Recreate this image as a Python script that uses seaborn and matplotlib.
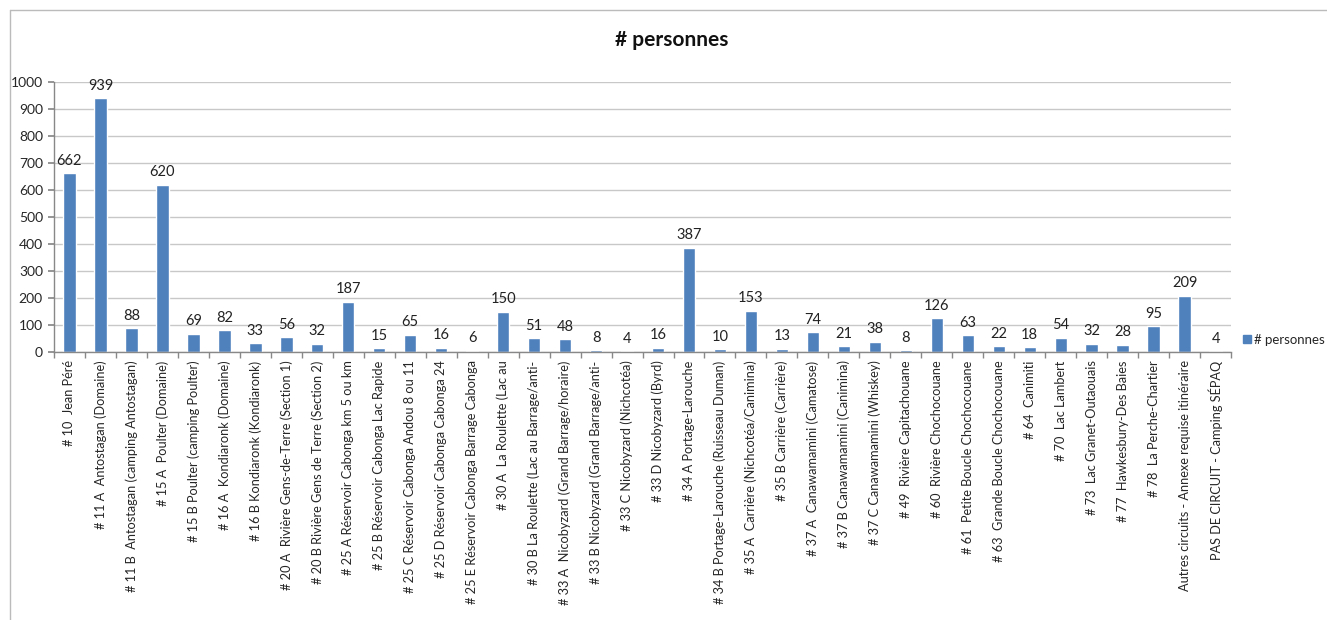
import matplotlib
matplotlib.use("Agg")
import matplotlib.pyplot as plt
import matplotlib.patches as mpatches
import seaborn as sns
import pandas as pd

# chart data
circuits = [
    "# 10  Jean Péré",
    "# 11 A  Antostagan (Domaine)",
    "# 11 B  Antostagan (camping Antostagan)",
    "# 15 A  Poulter (Domaine)",
    "# 15 B Poulter (camping Poulter)",
    "# 16 A  Kondiaronk (Domaine)",
    "# 16 B Kondiaronk (Kondiaronk)",
    "# 20 A  Rivière Gens-de-Terre (Section 1)",
    "# 20 B Rivière Gens de Terre (Section 2)",
    "# 25 A Réservoir Cabonga km 5 ou km",
    "# 25 B Réservoir Cabonga Lac Rapide",
    "# 25 C Réservoir Cabonga Andou 8 ou 11",
    "# 25 D Réservoir Cabonga Cabonga 24",
    "# 25 E Réservoir Cabonga Barrage Cabonga",
    "# 30 A  La Roulette (Lac au",
    "# 30 B La Roulette (Lac au Barrage/anti-",
    "# 33 A  Nicobyzard (Grand Barrage/horaire)",
    "# 33 B Nicobyzard (Grand Barrage/anti-",
    "# 33 C Nicobyzard (Nichcotéa)",
    "# 33 D Nicobyzard (Byrd)",
    "# 34 A Portage-Larouche",
    "# 34 B Portage-Larouche (Ruisseau Duman)",
    "# 35 A  Carrière (Nichcotéa/Canimina)",
    "# 35 B Carrière (Carrière)",
    "# 37 A  Canawamamini (Camatose)",
    "# 37 B Canawamamini (Canimina)",
    "# 37 C Canawamamini (Whiskey)",
    "# 49  Rivière Capitachouane",
    "# 60  Rivière Chochocouane",
    "# 61  Petite Boucle Chochocouane",
    "# 63  Grande Boucle Chochocouane",
    "# 64  Canimiti",
    "# 70  Lac Lambert",
    "# 73  Lac Granet-Outaouais",
    "# 77  Hawkesbury-Des Baies",
    "# 78  La Perche-Chartier",
    "Autres circuits - Annexe requise itinéraire",
    "PAS DE CIRCUIT - Camping SÉPAQ",
]
personnes = [662, 939, 88, 620, 69, 82, 33, 56, 32, 187, 15, 65, 16, 6, 150,
             51, 48, 8, 4, 16, 387, 10, 153, 13, 74, 21, 38, 8, 126, 63, 22,
             18, 54, 32, 28, 95, 209, 4]
y_ticks = [0, 100, 200, 300, 400, 500, 600, 700, 800, 900, 1000]

BAR_COLOR = "#4F81BD"

sns.set_theme(style="white")
plt.rcParams["font.family"] = ["Lato", "DejaVu Sans"]

df = pd.DataFrame({"circuit": circuits, "personnes": personnes})

fig = plt.figure(figsize=(13.27, 6.2), dpi=100)
ax = fig.add_axes([0.0407, 0.432, 0.887, 0.436])

sns.barplot(data=df, x="circuit", y="personnes", color=BAR_COLOR,
            width=0.4, saturation=1, ax=ax)

# value labels above bars
for i, v in enumerate(personnes):
    ax.text(i, v + 20, str(v), ha="center", va="bottom", fontsize=10.5,
            color="#222222")

ax.set_ylim(0, 1000)
ax.set_xlim(-0.5, len(circuits) - 0.5)
ax.set_yticks(y_ticks)
ax.yaxis.grid(True, color="#c8c8c8", linewidth=1)
ax.set_axisbelow(True)
ax.tick_params(axis="y", labelsize=10, pad=4, length=4, color="#888888",
               direction="out", left=True)
ax.tick_params(axis="x", labelsize=9.2, length=0, pad=6)
ax.set_xticks(range(len(circuits)))
ax.set_xticklabels(circuits, rotation=90, ha="center", va="top")
# minor ticks between categories on the x axis
ax.set_xticks([i + 0.5 for i in range(-1, len(circuits))], minor=True)
ax.tick_params(axis="x", which="minor", length=4, color="#888888",
               direction="out", bottom=True)
ax.set_xlabel("")
ax.set_ylabel("")
for side in ["top", "right"]:
    ax.spines[side].set_visible(False)
for side in ["left", "bottom"]:
    ax.spines[side].set_color("#888888")
    ax.spines[side].set_linewidth(1)

fig.text(0.506, 0.935, "# personnes", ha="center", va="center",
         fontsize=15, fontweight="bold", color="#111111")

# legend
handle = mpatches.Patch(color=BAR_COLOR, label="# personnes")
fig.legend(handles=[handle], loc="center left",
           bbox_to_anchor=(0.928, 0.452), frameon=False, fontsize=9.5,
           handlelength=0.6, handleheight=0.6, handletextpad=0.2)

# chart frame (top and left edge visible in the source image)
fig.add_artist(plt.Line2D([10 / 1327, 10 / 1327], [0, 1 - 10 / 620],
                          transform=fig.transFigure, color="#bbbbbb", lw=1))
fig.add_artist(plt.Line2D([10 / 1327, 1], [1 - 10 / 620, 1 - 10 / 620],
                          transform=fig.transFigure, color="#bbbbbb", lw=1))

fig.savefig("out.png", dpi=100)
